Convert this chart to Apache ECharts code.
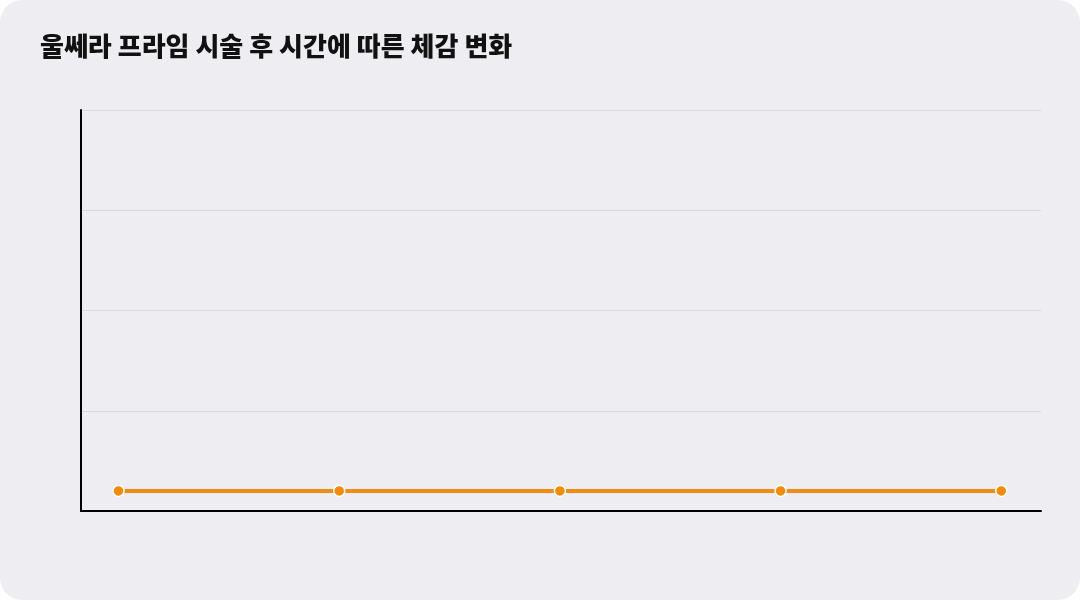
<!DOCTYPE html>
<html>
<head>
<meta charset="utf-8">
<script src="https://cdn.jsdelivr.net/npm/echarts@6/dist/echarts.min.js"></script>
<style>
  html, body { margin: 0; padding: 0; background: #ffffff; }
  #chart { width: 1080px; height: 600px; background: #eeedf2; border-radius: 22px; overflow: hidden; }
</style>
</head>
<body>
<div id="chart"></div>
<script>
// 데이터
var titleText = '울쎄라 프라임 시술 후 시간에 따른 체감 변화';
var categories = ['1', '2', '3', '4', '5'];   // 축 라벨은 원본에서 표시되지 않음
var values = [5, 5, 5, 5, 5];

var chart = echarts.init(document.getElementById('chart'));

var points = [];
for (var i = 0; i < categories.length; i++) {
  points.push([i, values[i]]);
}

var option = {
  backgroundColor: 'transparent',
  animation: false,
  title: {
    text: titleText,
    left: 35,
    top: 28,
    textStyle: {
      fontFamily: 'Noto Sans CJK KR',
      fontSize: 26,
      fontWeight: 900,
      color: '#111111'
    }
  },
  grid: {
    left: 81,
    right: 39,
    top: 110,
    bottom: 89
  },
  xAxis: {
    type: 'value',
    min: -0.17,
    max: 4.18,
    axisLine: { show: true, lineStyle: { color: '#000000', width: 2 } },
    axisTick: { show: false },
    axisLabel: { show: false },
    splitLine: { show: false }
  },
  yAxis: {
    type: 'value',
    min: 0,
    max: 100,
    interval: 25,
    axisLine: { show: true, onZero: false, lineStyle: { color: '#000000', width: 2 } },
    axisTick: { show: false },
    axisLabel: { show: false },
    splitLine: { show: true, lineStyle: { color: '#d9d8de', width: 1 } }
  },
  series: [{
    type: 'line',
    data: points,
    symbol: 'circle',
    symbolSize: 11,
    lineStyle: { color: '#f08c14', width: 4 },
    itemStyle: { color: '#f58a07', borderColor: '#ffffff', borderWidth: 1.5 }
  }]
};

chart.setOption(option);
</script>
</body>
</html>
